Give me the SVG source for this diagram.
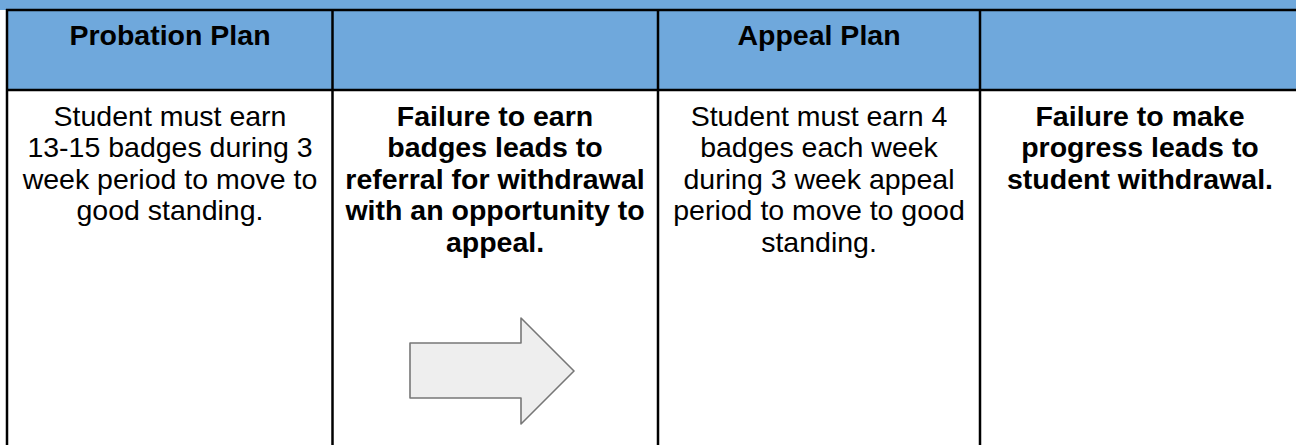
<svg xmlns="http://www.w3.org/2000/svg" width="1296" height="445" viewBox="0 0 1296 445">
<style>
.hd{font-family:"Liberation Sans",Arial,sans-serif;font-weight:bold;font-size:28.5px;fill:#000;text-anchor:middle}
.rg{font-family:"Liberation Sans",Arial,sans-serif;font-size:28.5px;fill:#000;text-anchor:middle}
.bd{font-family:"Liberation Sans",Arial,sans-serif;font-weight:bold;font-size:28.5px;fill:#000;text-anchor:middle}
.ln{stroke:#000;stroke-width:2.5;fill:none}
</style>
<rect x="0" y="0" width="1296" height="445" fill="#fff"/>
<rect x="0" y="0" width="1296" height="10" fill="#6fa8dc"/>
<rect x="7" y="10" width="1289" height="80" fill="#6fa8dc"/>
<g id="grid">
<line class="ln" x1="6" y1="10" x2="1296" y2="10"/>
<line class="ln" x1="7" y1="9" x2="7" y2="445"/>
<line class="ln" x1="7" y1="90" x2="1296" y2="90"/>
<line class="ln" x1="332.5" y1="10" x2="332.5" y2="445"/>
<line class="ln" x1="658" y1="10" x2="658" y2="445"/>
<line class="ln" x1="980" y1="10" x2="980" y2="445"/>
</g>
<g id="col1">
<text class="hd" x="170" y="45">Probation Plan</text>
<text class="rg" x="170" y="125.5">Student must earn</text>
<text class="rg" x="170" y="157">13-15 badges during 3</text>
<text class="rg" x="170" y="188.5">week period to move to</text>
<text class="rg" x="170" y="220">good standing.</text>
</g>
<g id="col2">
<text class="bd" x="495" y="125.5">Failure to earn</text>
<text class="bd" x="495" y="157">badges leads to</text>
<text class="bd" x="495" y="188.5">referral for withdrawal</text>
<text class="bd" x="495" y="220">with an opportunity to</text>
<text class="bd" x="495" y="251.5">appeal.</text>
<polygon points="410,343 521,343 521,318 574,371 521,424 521,398 410,398" fill="#eeeeee" stroke="#777" stroke-width="1.6" stroke-linejoin="round"/>
</g>
<g id="col3">
<text class="hd" x="819" y="45">Appeal Plan</text>
<text class="rg" x="819" y="125.5">Student must earn 4</text>
<text class="rg" x="819" y="157">badges each week</text>
<text class="rg" x="819" y="188.5">during 3 week appeal</text>
<text class="rg" x="819" y="220">period to move to good</text>
<text class="rg" x="819" y="251.5">standing.</text>
</g>
<g id="col4">
<text class="bd" x="1140" y="125.5">Failure to make</text>
<text class="bd" x="1140" y="157">progress leads to</text>
<text class="bd" x="1140" y="188.5">student withdrawal.</text>
</g>
</svg>
